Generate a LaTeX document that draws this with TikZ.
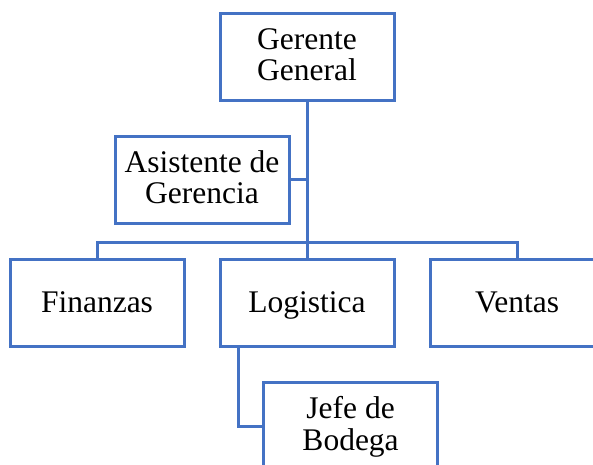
\documentclass[tikz,border=0pt]{standalone}
\usepackage{fontspec}
\setmainfont{Liberation Serif}
\definecolor{boxblue}{HTML}{4472C4}
\begin{document}
\begin{tikzpicture}[x=1pt,y=-1pt,
  orgbox/.style={draw=boxblue,line width=3pt,rectangle,minimum width=174pt,minimum height=87pt,inner sep=0pt,align=center,font=\fontsize{31.5pt}{31.5pt}\selectfont},
  oneline/.style={orgbox,text height=22pt,text depth=4pt},
  twoline/.style={orgbox,text height=52pt,text depth=4pt},
  link/.style={draw=boxblue,line width=3pt}]
\useasboundingbox (0,0) rectangle (593,464);
\clip (0,0) rectangle (593,464);
\node[twoline] (gg) at (307,56.5) {Gerente\\General};
\node[twoline] (as) at (202,179.5) {Asistente de\\Gerencia};
\node[oneline] (fi) at (97,303) {Finanzas};
\node[oneline] (lo) at (307,303) {Logistica};
\node[oneline] (ve) at (517,303) {Ventas};
\node[twoline] (jb) at (350.6,426) {Jefe de\\Bodega};
\coordinate (bus) at (307,242);
\coordinate (lodrop) at (238,347);
\draw[link] (gg.south) -- (bus);
\draw[link] (as.east) -- (as.east -| bus);
\draw[link] (fi.north) |- (bus) -| (ve.north);
\draw[link] (bus) -- (lo.north);
\draw[link] (lodrop) |- (jb.west);
\end{tikzpicture}
\end{document}
